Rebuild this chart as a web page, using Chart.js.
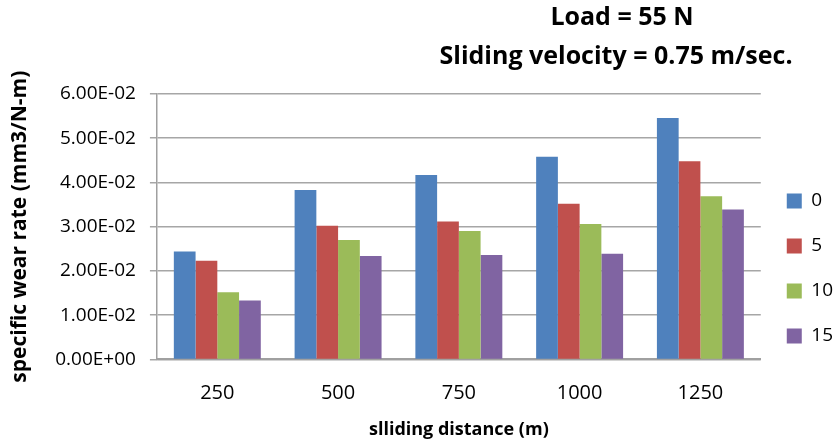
<!DOCTYPE html>
<html>
<head>
<meta charset="utf-8">
<script src="https://cdn.jsdelivr.net/npm/chart.js@4.4.1/dist/chart.umd.min.js"></script>
<style>
    html, body { margin: 0; padding: 0; background: #fff; }
    #wrap { position: relative; width: 835px; height: 443px; }
</style>
</head>
<body>
<div id="wrap"><canvas id="wearChart" width="835" height="443"></canvas></div>
<script>
// distance categories (m)
const distances = ['250', '500', '750', '1000', '1250'];
// series labels (legend)
const seriesNames = ['0', '5', '10', '15'];
// specific wear rate values, one array per series
const wear0  = [0.0244, 0.0383, 0.0417, 0.0458, 0.0546];
const wear5  = [0.0223, 0.0302, 0.0312, 0.0352, 0.0448];
const wear10 = [0.0152, 0.0270, 0.0290, 0.0306, 0.0369];
const wear15 = [0.0133, 0.0234, 0.0236, 0.0239, 0.0339];
const titleLines = ['Load = 55 N', 'Sliding velocity = 0.75 m/sec.'];

const colors = ['#4F81BD', '#C0504D', '#9BBB59', '#8064A2'];
const seriesValues = [wear0, wear5, wear10, wear15];

// Excel-style scientific label: 6.00E-02
function sci(v) {
    const parts = Number(v).toExponential(2).split('e');
    const exp = parseInt(parts[1], 10);
    const sign = exp < 0 ? '-' : '+';
    const digits = String(Math.abs(exp)).padStart(2, '0');
    return parts[0] + 'E' + sign + digits;
}

// two-line title on the upper right
const topTitle = {
    id: 'topTitle',
    afterDraw(chart) {
        const ctx = chart.ctx;
        ctx.save();
        ctx.fillStyle = '#000';
        ctx.font = 'bold 25px "Open Sans"';
        ctx.textAlign = 'center';
        ctx.textBaseline = 'middle';
        ctx.fillText(titleLines[0], 622, 18);
        ctx.fillText(titleLines[1], 616, 57);
        ctx.restore();
    }
};

document.addEventListener('DOMContentLoaded', function() {
    const el = document.getElementById('wearChart');

    const data = {
        labels: distances,
        datasets: seriesNames.map((name, i) => ({
            label: name,
            data: seriesValues[i],
            backgroundColor: colors[i],
            borderWidth: 0,
            categoryPercentage: 0.72,
            barPercentage: 1.0
        }))
    };

    new Chart(el, {
        type: 'bar',
        data: data,
        options: {
            responsive: false,
            animation: false,
            layout: {
                padding: { top: 94, right: -8, bottom: 0, left: 0 }
            },
            scales: {
                x: {
                    grid: { display: false },
                    border: { color: '#a0a0a0', width: 2 },
                    ticks: {
                        color: '#000',
                        padding: 14,
                        font: { family: 'Open Sans', size: 20 }
                    },
                    title: {
                        display: true,
                        text: 'slliding distance (m)',
                        color: '#000',
                        padding: { top: 0, bottom: 2 },
                        font: { family: 'Open Sans', size: 18, weight: 'bold' }
                    }
                },
                y: {
                    min: 0,
                    max: 0.06,
                    ticks: {
                        stepSize: 0.01,
                        color: '#000',
                        padding: 14,
                        font: { family: 'Open Sans', size: 19 },
                        callback: v => sci(v)
                    },
                    grid: {
                        color: '#a6a6a6',
                        lineWidth: 1.5,
                        tickLength: 7
                    },
                    border: { color: '#a0a0a0', width: 1.5 },
                    title: {
                        display: true,
                        text: 'specific wear rate (mm3/N-m)',
                        color: '#000',
                        padding: { top: 7, bottom: 9 },
                        font: { family: 'Open Sans', size: 21, weight: 'bold' }
                    }
                }
            },
            plugins: {
                legend: {
                    position: 'right',
                    labels: {
                        color: '#000',
                        boxWidth: 15,
                        boxHeight: 15,
                        padding: 26,
                        font: { family: 'Open Sans', size: 19 }
                    }
                },
                tooltip: { enabled: false }
            }
        },
        plugins: [topTitle]
    });
});
</script>
</body>
</html>
